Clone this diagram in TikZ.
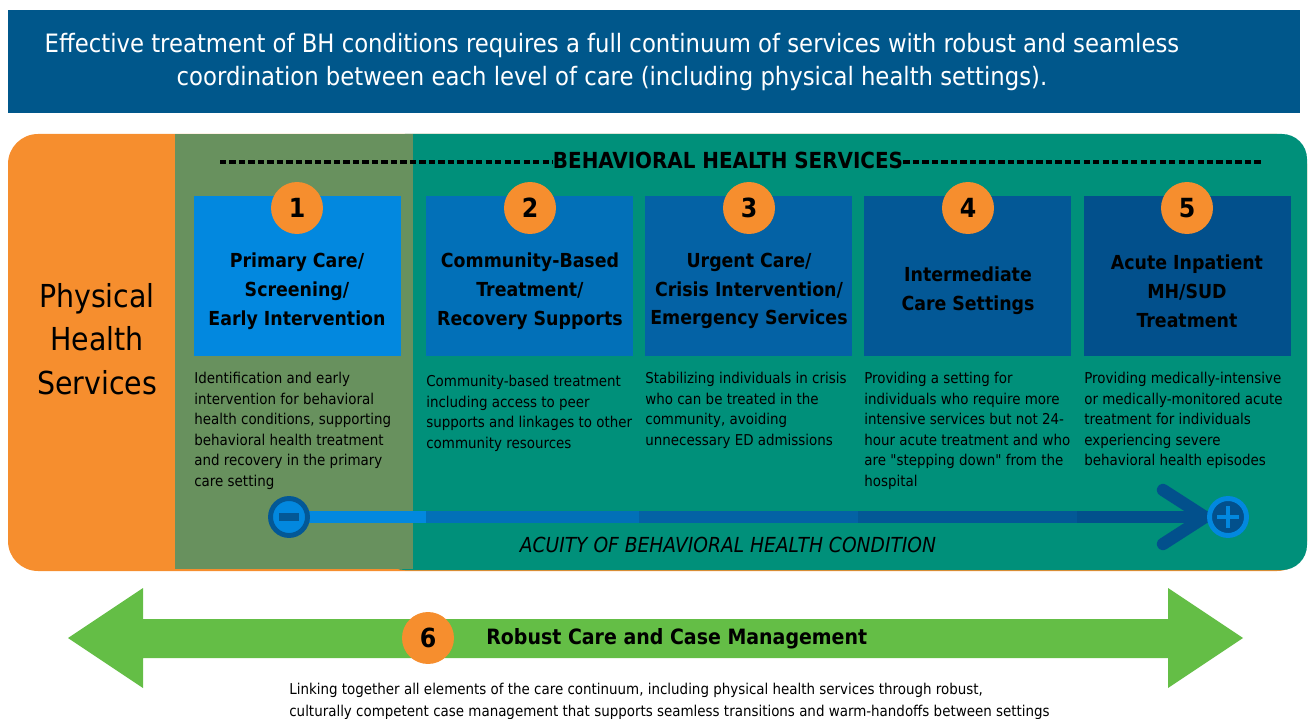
\documentclass[tikz,border=0pt]{standalone}
\usepackage{fontspec}
\setmainfont{DejaVu Sans Condensed}
\usetikzlibrary{positioning}
\definecolor{bannercol}{RGB}{0,87,139}
\definecolor{phcol}{RGB}{246,142,46}
\definecolor{olivecol}{RGB}{104,145,94}
\definecolor{tealcol}{RGB}{0,144,122}
\definecolor{lvlone}{RGB}{2,136,223}
\definecolor{lvltwo}{RGB}{2,112,184}
\definecolor{lvlthree}{RGB}{4,98,165}
\definecolor{lvlfour}{RGB}{3,88,150}
\definecolor{lvlfive}{RGB}{2,80,140}
\definecolor{cmcol}{RGB}{100,190,70}

\tikzset{
  numcirc/.style={circle, fill=phcol, minimum size=1.04cm, inner sep=0pt,
    font=\fontsize{15}{15}\selectfont\bfseries},
  boxtitle/.style={align=center, inner sep=0pt,
    font=\fontsize{11}{16.4}\selectfont\bfseries},
  desc/.style={align=left, anchor=north west, inner sep=0pt,
    font=\fontsize{8.5}{11.7}\selectfont},
  acuity/.style={line width=7pt},
  chevron/.style={line width=7pt, line cap=round, lvlfive}
}

\begin{document}
\begin{tikzpicture}[x=0.02cm,y=-0.02cm]
\useasboundingbox (0,0) rectangle (1308,719);

% Banner
\fill[bannercol] (8,10) rectangle (1300,113);
\node[align=center, text=white, font=\fontsize{14.4}{19.3}\selectfont] (banner) at (612,62)
  {Effective treatment of BH conditions requires a full continuum of services with robust and seamless\\
   coordination between each level of care (including physical health settings).};

% Physical health / BH panel
\fill[phcol, rounded corners=0.6cm] (8,134) rectangle (1307,571);
\fill[tealcol, rounded corners=0.5cm] (380,134) rectangle (1307,570);
\fill[olivecol] (175,134) rectangle (413,569);
\node[align=center, font=\fontsize{18}{24.9}\selectfont] (phs) at (97,339) {Physical\\Health\\Services};

% Header
\node[inner sep=0pt, font=\fontsize{12.6}{12.6}\selectfont\bfseries] (bhs) at (728,160) {BEHAVIORAL HEALTH SERVICES};
\coordinate (bhsl) at (220,162);
\coordinate (bhsr) at (1262,162);
\draw[line width=2pt, dash pattern=on 3.6pt off 1.8pt] (bhsl) -- (bhsl -| bhs.west);
\draw[line width=2pt, dash pattern=on 3.6pt off 1.8pt] (bhsr -| bhs.east) -- (bhsr);

% Level 1
\fill[lvlone] (194,196) rectangle (401,356);
\node[numcirc] (n1) at (297,208) {1};
\node[boxtitle] (t1) at (297,291) {Primary Care/\\Screening/\\Early Intervention};
\node[desc] (d1) at (194,372) {Identification and early\\intervention for behavioral\\health conditions, supporting\\behavioral health treatment\\and recovery in the primary\\care setting};

% Level 2
\fill[lvltwo] (426,196) rectangle (633,356);
\node[numcirc] (n2) at (530,208) {2};
\node[boxtitle] (t2) at (530,291) {Community-Based\\Treatment/\\Recovery Supports};
\node[desc] (d2) at (426,375) {Community-based treatment\\including access to peer\\supports and linkages to other\\community resources};

% Level 3
\fill[lvlthree] (645,196) rectangle (852,356);
\node[numcirc] (n3) at (749,208) {3};
\node[boxtitle] (t3) at (749,291) {Urgent Care/\\Crisis Intervention/\\Emergency Services};
\node[desc] (d3) at (645,372) {Stabilizing individuals in crisis\\who can be treated in the\\community, avoiding\\unnecessary ED admissions};

% Level 4
\fill[lvlfour] (864,196) rectangle (1071,356);
\node[numcirc] (n4) at (968,208) {4};
\node[boxtitle] (t4) at (968,291) {Intermediate\\Care Settings};
\node[desc] (d4) at (864,372) {Providing a setting for\\individuals who require more\\intensive services but not 24-\\hour acute treatment and who\\are \textquotedbl stepping down\textquotedbl{} from the\\hospital};

% Level 5
\fill[lvlfive] (1084,196) rectangle (1291,356);
\node[numcirc] (n5) at (1187,208) {5};
\node[boxtitle] (t5) at (1187,291) {Acute Inpatient\\MH/SUD\\Treatment};
\node[desc] (d5) at (1084,372) {Providing medically-intensive\\or medically-monitored acute\\treatment for individuals\\experiencing severe\\behavioral health episodes};

% Acuity arrow
\coordinate (acuitylo) at (289,517);
\coordinate (acuityhi) at (1228,517);
\draw[acuity, lvlfive] (acuitylo) -- (acuityhi);
\draw[acuity, lvlone] (acuitylo) -- (426,517);
\draw[acuity, lvltwo] (426,517) -- (639,517);
\draw[acuity, lvlthree] (639,517) -- (858,517);
\draw[acuity, lvlfour] (858,517) -- (1077,517);
\draw[chevron] (1163,490) -- (1205,517) -- (1163,544);
\node[circle, fill=lvlone, draw=lvlfour, line width=2.8pt, minimum size=0.74cm, inner sep=0pt] (lo) at (acuitylo)
  {\textcolor{lvlfour}{\rule[-2.25pt]{11pt}{4.5pt}}};
\node[circle, fill=lvlfive, draw=lvlone, line width=2.8pt, minimum size=0.74cm, inner sep=0pt] (hi) at (acuityhi) {};
\draw[lvlone, line width=2.8pt] (hi.center) ++(-11,0) -- ++(22,0);
\draw[lvlone, line width=2.8pt] (hi.center) ++(0,-11) -- ++(0,22);
\node[font=\fontsize{11.8}{11.8}\selectfont\itshape] (acu) at (728,545) {ACUITY OF BEHAVIORAL HEALTH CONDITION};

% Case management arrow
\fill[cmcol] (68,638) -- (143,588) -- (143,619) -- (1168,619) -- (1168,588) -- (1243,638)
  -- (1168,688) -- (1168,658) -- (143,658) -- (143,688) -- cycle;
\node[numcirc] (n6) at (428,638) {6};
\node[anchor=west, inner sep=0pt, font=\fontsize{12}{12}\selectfont\bfseries] (cm) at (486,639) {Robust Care and Case Management};
\node[anchor=north west, align=left, inner sep=0pt, font=\fontsize{8.5}{12.5}\selectfont] (cmdesc) at (289,683)
  {Linking together all elements of the care continuum, including physical health services through robust,\\
   culturally competent case management that supports seamless transitions and warm-handoffs between settings};
\end{tikzpicture}
\end{document}
